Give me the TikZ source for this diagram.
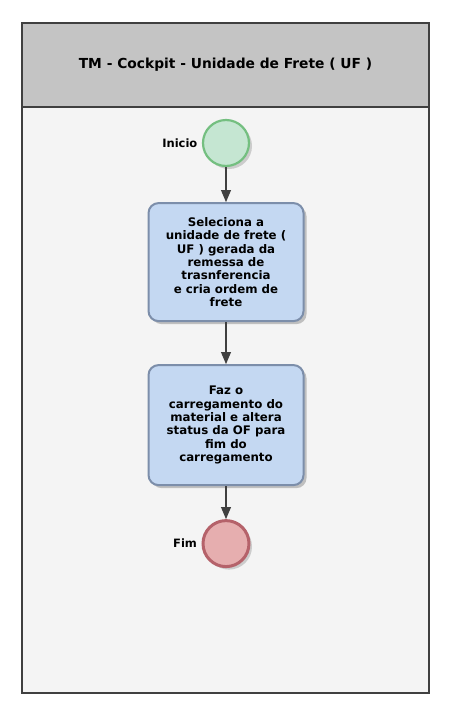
\documentclass[tikz,border=0pt]{standalone}
\usepackage{fontspec}
\setmainfont{DejaVu Sans}
\usepackage{tikz}
\usetikzlibrary{shapes, calc, arrows, positioning, shadows}

\definecolor{framegray}{HTML}{404040}
\definecolor{headgray}{HTML}{C4C4C4}
\definecolor{bodygray}{HTML}{F4F4F4}
\definecolor{taskfill}{HTML}{C4D8F2}
\definecolor{taskdraw}{HTML}{7C8EAA}
\definecolor{startfill}{HTML}{C5E6D2}
\definecolor{startdraw}{HTML}{74BF80}
\definecolor{endfill}{HTML}{E6AEAF}
\definecolor{enddraw}{HTML}{B5626A}

\tikzset{
    task/.style = {draw=taskdraw, fill=taskfill, line width=2pt, rounded corners=10pt,
        minimum width=155pt, minimum height=118pt, align=center,
        font=\bfseries\fontsize{11.8}{13.3}\selectfont,
        drop shadow={shadow xshift=3pt, shadow yshift=-3pt, fill=black!25, opacity=1}},
    event/.style = {circle, minimum size=46pt, inner sep=0pt, line width=2.2pt,
        drop shadow={shadow xshift=3pt, shadow yshift=-3pt, fill=black!20, opacity=1}},
    flow/.style = {->, draw=framegray, line width=1.8pt},
}

\begin{document}
\begin{tikzpicture}[x=1pt, y=-1pt, >=triangle 45]
    \useasboundingbox (0,0) rectangle (462,718);

    % pool
    \fill[bodygray] (22,107) rectangle (429,693);
    \fill[headgray] (22,23) rectangle (429,107);
    \draw[framegray, line width=2.5pt] (22,23) rectangle (429,693);
    \draw[framegray, line width=2.5pt] (22,107) -- (429,107);
    \node[font=\bfseries\fontsize{13.8}{16}\selectfont] (title) at (225.5,65) {TM - Cockpit - Unidade de Frete ( UF )};

    \node[event, draw=startdraw, fill=startfill] (start) at (226,143) {};
    \node[left=1pt of start, font=\bfseries\fontsize{11.5}{13}\selectfont] (startlbl) {Inicio};

    \node[task, below=35pt of start] (sel) {Seleciona a\\unidade de frete (\\UF ) gerada da\\remessa de\\trasnferencia\\e cria ordem de\\frete};
    \node[task, below=42pt of sel, minimum height=120pt] (carr) {Faz o\\carregamento do\\material e altera\\status da OF para\\fim do\\carregamento};

    \node[event, draw=enddraw, fill=endfill, line width=3pt, below=33pt of carr] (end) {};
    \node[left=1pt of end, font=\bfseries\fontsize{11.5}{13}\selectfont] (endlbl) {Fim};

    \draw[flow] (start) -- (sel);
    \draw[flow] (sel) -- (carr);
    \draw[flow] (carr) -- (end);
\end{tikzpicture}
\end{document}
